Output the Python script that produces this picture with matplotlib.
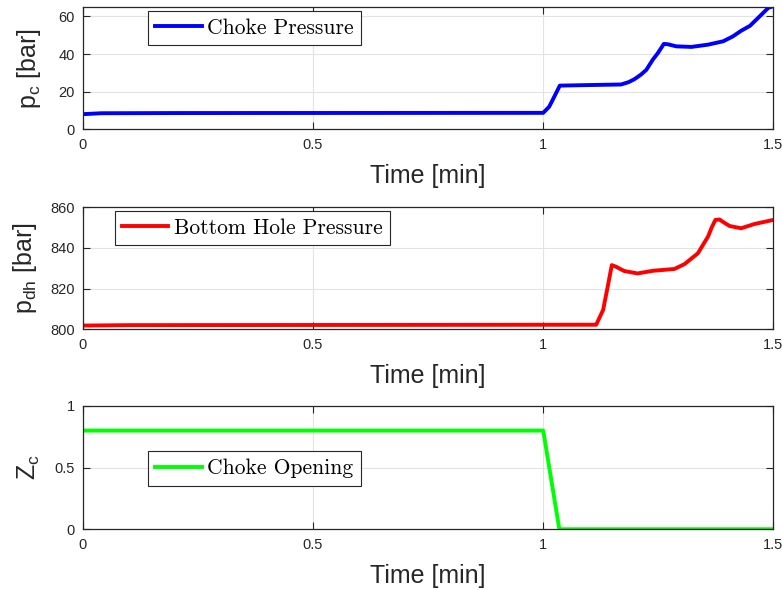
import matplotlib
matplotlib.use('Agg')
import matplotlib.pyplot as plt

# choke pressure [bar] vs time [min]
t_pc = [0, 0.04, 0.2, 1.0, 1.013, 1.024, 1.036, 1.1, 1.169, 1.185, 1.198, 1.212,
        1.224, 1.238, 1.249, 1.262, 1.271, 1.289, 1.322, 1.358, 1.391, 1.412,
        1.430, 1.449, 1.467, 1.489, 1.5]
p_c = [8.0, 8.5, 8.6, 8.7, 12.0, 17.3, 23.2, 23.5, 23.8, 25.0, 26.6, 29.0,
       31.6, 37.0, 40.5, 45.4, 45.2, 44.1, 43.8, 45.0, 46.8, 49.4,
       52.4, 55.0, 59.3, 64.6, 65.5]

# bottom hole pressure [bar]
t_pdh = [0, 0.1, 1.115, 1.13, 1.14, 1.149, 1.158, 1.176, 1.205, 1.238, 1.285,
         1.307, 1.336, 1.358, 1.366, 1.374, 1.383, 1.392, 1.405, 1.430, 1.459, 1.5]
p_dh = [801.8, 802.0, 802.2, 809.4, 820.8, 831.5, 830.7, 828.6, 827.4, 828.7, 829.6,
        832.0, 837.3, 845.5, 850.0, 853.7, 853.9, 852.5, 850.7, 849.6, 851.7, 853.7]

# choke opening [-]
t_zc = [0, 1.0, 1.035, 1.5]
z_c = [0.8, 0.8, 0.0, 0.0]

xticks = [0, 0.5, 1, 1.5]
xticklabels = ['0', '0.5', '1', '1.5']

fig = plt.figure(figsize=(7.82, 5.90), dpi=100)
plt.rcParams['font.family'] = ['Liberation Sans', 'DejaVu Sans']

boxes = [(0.106, 0.781, 0.883, 0.207),
         (0.106, 0.442, 0.883, 0.207),
         (0.106, 0.103, 0.883, 0.209)]

panels = [
    (t_pc, p_c, 'blue', 'Choke Pressure', r'p$_\mathregular{c}$ [bar]', (0, 65), [0, 20, 40, 60], ['0', '20', '40', '60'], (0.094, 0.97), 11),
    (t_pdh, p_dh, 'red', 'Bottom Hole Pressure', r'p$_\mathregular{dh}$ [bar]', (800, 860), [800, 820, 840, 860], ['800', '820', '840', '860'], (0.046, 0.972), 8),
    (t_zc, z_c, '#00ff00', 'Choke Opening', r'Z$_\mathregular{c}$', (0, 1), [0, 0.5, 1], ['0', '0.5', '1'], (0.094, 0.633), 9),
]

for box, (t, y, col, name, ylab, ylim, yt, ytl, anchor, ypad) in zip(boxes, panels):
    ax = fig.add_axes(box)
    ax.plot(t, y, color=col, lw=2.8, label=name, solid_joinstyle='round')
    ax.set_xlim(0, 1.5)
    ax.set_ylim(*ylim)
    ax.set_xticks(xticks)
    ax.set_xticklabels(xticklabels)
    ax.set_yticks(yt)
    ax.set_yticklabels(ytl)
    ax.grid(True, color='#e3e3e3', lw=0.8)
    ax.set_axisbelow(True)
    ax.tick_params(direction='in', top=True, right=True, length=5, width=0.8,
                   colors='#262626', labelsize=10.5, pad=6)
    for s in ax.spines.values():
        s.set_color('#262626')
        s.set_linewidth(0.9)
    ax.set_xlabel('Time [min]', fontsize=18, color='#262626', labelpad=9)
    ax.set_ylabel(ylab, fontsize=18, color='#262626', labelpad=ypad)
    leg = ax.legend(loc='upper left', bbox_to_anchor=anchor, borderaxespad=0,
                    fancybox=False, framealpha=1, edgecolor='#262626',
                    prop={'family': 'cmr10', 'size': 15.5}, handlelength=2.15,
                    handletextpad=0.25, borderpad=0.35)
    leg.get_frame().set_linewidth(0.8)

fig.savefig('out.png', dpi=100)
